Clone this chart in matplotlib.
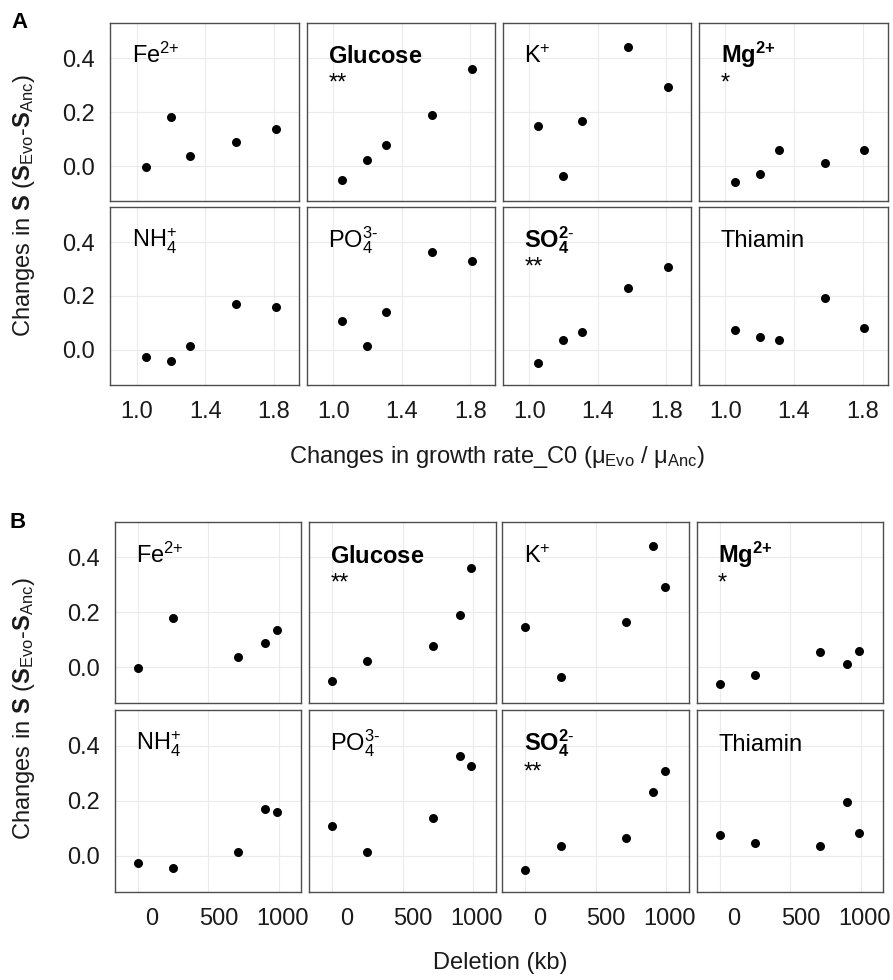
import matplotlib
matplotlib.use("Agg")
import matplotlib.pyplot as plt

plt.rcParams['font.family'] = ['Liberation Sans', 'DejaVu Sans']
plt.rcParams['mathtext.fontset'] = 'custom'
plt.rcParams['mathtext.rm'] = 'Liberation Sans'
plt.rcParams['mathtext.bf'] = 'Liberation Sans:bold'
plt.rcParams['mathtext.it'] = 'Liberation Sans:italic'
plt.rcParams['mathtext.sf'] = 'Liberation Sans'

# five evolved strains, same order in both x variables
growth_ratio = [1.053, 1.199, 1.31, 1.578, 1.81]
deletion_kb = [0, 250, 712, 905, 988]

nutrients = [r'Fe$^{2{+}}$', r'$\mathbf{Glucose}$', r'K$^{+}$', r'$\mathbf{Mg}^{\mathbf{2{+}}}$',
             r'NH$_4^{+}$', r'PO$_4^{3\text{-}}$', r'$\mathbf{SO}_\mathbf{4}^{\mathbf{2}\text{-}}$', 'Thiamin']
signif = ['', '**', '', '*', '', '', '**', '']

fe = [-0.003, 0.181, 0.039, 0.089, 0.136]
glucose = [-0.05, 0.023, 0.078, 0.19, 0.36]
k = [0.148, -0.035, 0.166, 0.441, 0.294]
mg = [-0.059, -0.028, 0.058, 0.011, 0.061]
nh4 = [-0.028, -0.043, 0.013, 0.17, 0.158]
po4 = [0.108, 0.015, 0.139, 0.363, 0.328]
so4 = [-0.05, 0.035, 0.066, 0.231, 0.309]
thiamin = [0.074, 0.046, 0.035, 0.194, 0.081]
s_changes = [fe, glucose, k, mg, nh4, po4, so4, thiamin]

yticks = [0.0, 0.2, 0.4]
ytick_labels = ['0.0', '0.2', '0.4']
growth_ticks = [1.0, 1.4, 1.8]
growth_labels = ['1.0', '1.4', '1.8']
deletion_ticks = [0, 500, 1000]
deletion_label_pos = [101, 571, 1024]
deletion_labels = ['0', '500', '1000']

W, H = 893, 980
fig = plt.figure(figsize=(W / 100, H / 100), dpi=100)
TXT = '#1a1a1a'
FS = 17


def make_grid(lefts, tops, w, h, xvals, xlim, xticks, xlab_pos, xlabels):
    for i in range(8):
        r, c = divmod(i, 4)
        ax = fig.add_axes([lefts[c] / W, 1 - (tops[r] + h) / H, w / W, h / H])
        ax.scatter(xvals, s_changes[i], s=42, color='black', zorder=3, linewidths=0)
        ax.set_xlim(xlim)
        ax.set_ylim(-0.13, 0.53)
        ax.set_yticks(yticks)
        ax.set_xticks(xticks)
        ax.grid(True, color='#EBEBEB', linewidth=0.8, zorder=0)
        ax.set_axisbelow(True)
        ax.tick_params(axis='y', length=0, labelsize=FS, colors=TXT, pad=11)
        ax.tick_params(axis='x', length=0, labelsize=FS, colors=TXT, pad=12)
        ax.set_yticklabels(ytick_labels if c == 0 else [])
        if xlab_pos is None:
            ax.set_xticklabels(xlabels if r == 1 else [])
        else:
            # labels sit a little right of the grid lines, as in the source
            ax.set_xticklabels([])
            ax.set_xticks(xlab_pos, minor=True)
            ax.set_xticklabels(xlabels if r == 1 else [], minor=True)
            ax.tick_params(axis='x', which='minor', length=0, labelsize=FS, colors=TXT, pad=12)
        for sp in ax.spines.values():
            sp.set_color('#4d4d4d')
            sp.set_linewidth(1.0)
        ax.text(0.115, 0.775, nutrients[i], transform=ax.transAxes, fontsize=FS,
                va='baseline', ha='left', color='black')
        if signif[i]:
            ax.text(0.115, 0.625, signif[i], transform=ax.transAxes, fontsize=FS,
                    va='baseline', ha='left', color='black')


ylabel = r'Changes in $\mathbf{S}$ ($\mathbf{S}_{\mathrm{Evo}}$-$\mathbf{S}_{\mathrm{Anc}}$)'

# panel A
make_grid([110.3, 306.7, 502.7, 699.0], [23.3, 207.0], 188.5, 177.8,
          growth_ratio, (0.846, 1.944), growth_ticks, None, growth_labels)
fig.text(20 / W, 1 - 22 / H, 'A', fontsize=16, fontweight='bold', ha='center', va='center')
fig.text(24 / W, 1 - 206 / H, ylabel, fontsize=FS, rotation=90, ha='center', va='center', color=TXT)
fig.text(497 / W, 1 - 457 / H, r'Changes in growth rate_C0 (μ$_{\mathrm{Evo}}$ / μ$_{\mathrm{Anc}}$)',
         fontsize=FS, ha='center', va='center', color=TXT)

# panel B
make_grid([114.7, 309.0, 502.3, 696.7], [521.7, 710.0], 186.5, 181.5,
          deletion_kb, (-163, 1158), deletion_ticks, deletion_label_pos, deletion_labels)
fig.text(18 / W, 1 - 522 / H, 'B', fontsize=16, fontweight='bold', ha='center', va='center')
fig.text(24 / W, 1 - 709 / H, ylabel, fontsize=FS, rotation=90, ha='center', va='center', color=TXT)
fig.text(500 / W, 1 - 963 / H, 'Deletion (kb)', fontsize=FS, ha='center', va='center', color=TXT)

fig.savefig('out.png', dpi=100)
